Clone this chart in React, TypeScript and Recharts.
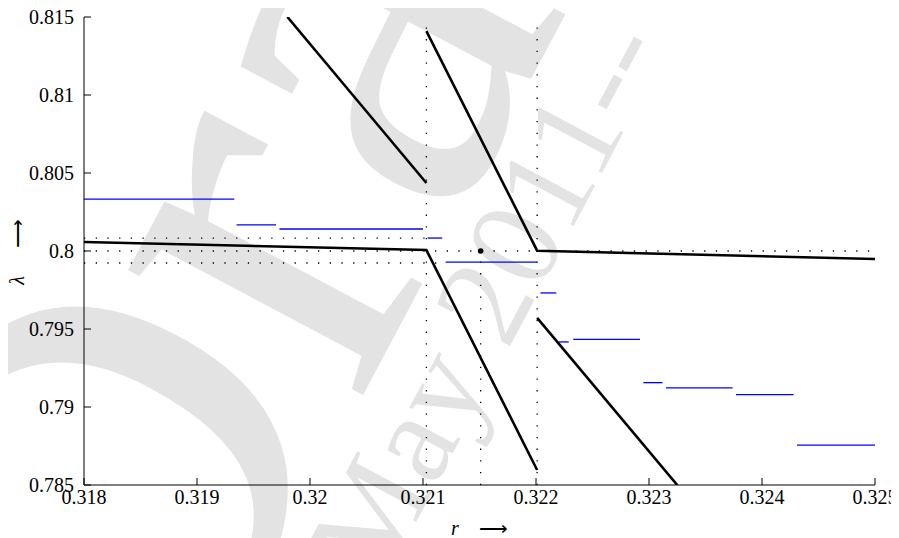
import { ComposedChart, Line, Scatter, XAxis, YAxis } from 'recharts';

type Pt = { r: number; lam: number };

// black solution branches
const branchLow: Pt[] = [
  { r: 0.318, lam: 0.80058 },
  { r: 0.32103, lam: 0.80006 },
  { r: 0.32201, lam: 0.78596 },
];
const branchUpLeft: Pt[] = [
  { r: 0.3198, lam: 0.815 },
  { r: 0.32103, lam: 0.80436 },
];
const branchMid: Pt[] = [
  { r: 0.32103, lam: 0.8141 },
  { r: 0.32201, lam: 0.80002 },
  { r: 0.325, lam: 0.79949 },
];
const branchDownRight: Pt[] = [
  { r: 0.32201, lam: 0.79571 },
  { r: 0.32325, lam: 0.785 },
];

// blue steps
const stepFrom = [0.318, 0.31935, 0.31973, 0.32104, 0.3212, 0.32204, 0.3222, 0.32233, 0.32295, 0.32315, 0.32377, 0.32431];
const stepTo = [0.31933, 0.3197, 0.321, 0.32117, 0.32201, 0.32218, 0.32229, 0.32292, 0.32312, 0.32374, 0.32428, 0.325];
const stepLam = [0.80333, 0.80167, 0.80141, 0.80083, 0.79929, 0.79731, 0.79417, 0.79434, 0.79156, 0.79122, 0.79079, 0.78756];

// dotted guide lines
const guides: Pt[][] = [
  [{ r: 0.32103, lam: 0.785 }, { r: 0.32103, lam: 0.815 }],
  [{ r: 0.32201, lam: 0.785 }, { r: 0.32201, lam: 0.815 }],
  [{ r: 0.32151, lam: 0.785 }, { r: 0.32151, lam: 0.8 }],
  [{ r: 0.318, lam: 0.80083 }, { r: 0.32103, lam: 0.80083 }],
  [{ r: 0.318, lam: 0.8 }, { r: 0.325, lam: 0.8 }],
  [{ r: 0.318, lam: 0.79923 }, { r: 0.3212, lam: 0.79923 }],
];

const marker: Pt[] = [{ r: 0.32151, lam: 0.8 }];

const xTicks = [0.318, 0.319, 0.32, 0.321, 0.322, 0.323, 0.324, 0.325];
const yTicks = [0.785, 0.79, 0.795, 0.8, 0.805, 0.81, 0.815];

const FONT = 'Liberation Serif';

function XLabel(props: any) {
  const vb = props.viewBox;
  return (
    <text x={vb.x + vb.width / 2} y={vb.y + 50} textAnchor="middle" fontFamily={FONT} fontSize={20} fill="#000">
      <tspan fontStyle="italic">r</tspan>
      <tspan dx={20}>⟶</tspan>
    </text>
  );
}

function YLabel(props: any) {
  const vb = props.viewBox;
  const cy = vb.y + vb.height / 2;
  return (
    <text x={0} y={0} transform={`translate(16,${cy + 1}) rotate(-90)`} textAnchor="middle" fontFamily={FONT} fontSize={20} fill="#000">
      <tspan fontStyle="italic">λ</tspan>
      <tspan dx={28}>⟶</tspan>
    </text>
  );
}

function XTick(p: any) {
  return (
    <text x={p.x} y={p.y} dy="0.71em" textAnchor="middle" fontFamily={FONT} fontSize={20} fill="#000">
      {String(p.payload.value)}
    </text>
  );
}

function YTick(p: any) {
  return (
    <text x={p.x} y={p.y} dy="0.34em" textAnchor="end" fontFamily={FONT} fontSize={20} fill="#000">
      {String(p.payload.value)}
    </text>
  );
}

function Watermark() {
  return (
    <svg width={899} height={538} style={{ position: 'absolute', left: -8, top: -8 }}>
      <g fill="#e3e3e3" fontFamily={FONT}>
        <text transform="translate(161,775) rotate(-62)" fontSize={580}>Draft</text>
        <text transform="translate(380,590) rotate(-62)" fontSize={130}>May 2011--</text>
      </g>
    </svg>
  );
}

export default function App() {
  const steps = stepLam.map((lam, i) => [
    { r: stepFrom[i], lam },
    { r: stepTo[i], lam },
  ]);
  return (
    <div style={{ width: 891, height: 530, position: 'relative' }}>
      <style>{'html{overflow:hidden}'}</style>
      <Watermark />
      <div style={{ position: 'absolute', left: 0, top: 0 }}>
        <ComposedChart width={891} height={530} margin={{ top: 9, right: 24, left: 0, bottom: 23 }}>
          <XAxis
            type="number"
            dataKey="r"
            domain={[0.318, 0.325]}
            ticks={xTicks}
            allowDataOverflow
            tick={XTick}
            tickSize={-7}
            tickMargin={12}
            stroke="#000"
            height={30}
            label={{ content: XLabel }}
          />
          <YAxis
            type="number"
            dataKey="lam"
            domain={[0.785, 0.815]}
            ticks={yTicks}
            allowDataOverflow
            tick={YTick}
            tickSize={-7}
            tickMargin={17}
            stroke="#000"
            width={76}
            label={{ content: YLabel }}
          />
          {guides.map((g, i) => (
            <Line
              key={'g' + i}
              data={g}
              dataKey="lam"
              stroke="#000"
              strokeWidth={1.3}
              strokeDasharray="1.3 10.4"
              dot={false}
              activeDot={false}
              isAnimationActive={false}
            />
          ))}
          {steps.map((s, i) => (
            <Line
              key={'s' + i}
              data={s}
              dataKey="lam"
              stroke="#0000ff"
              strokeWidth={1.3}
              dot={false}
              activeDot={false}
              isAnimationActive={false}
            />
          ))}
          {[branchLow, branchUpLeft, branchMid, branchDownRight].map((b, i) => (
            <Line
              key={'b' + i}
              data={b}
              dataKey="lam"
              stroke="#000"
              strokeWidth={2.6}
              dot={false}
              activeDot={false}
              isAnimationActive={false}
            />
          ))}
          <Scatter
            data={marker}
            dataKey="lam"
            fill="#000"
            isAnimationActive={false}
            shape={(p: any) => <circle cx={p.cx} cy={p.cy} r={2.8} fill="#000" />}
          />
        </ComposedChart>
      </div>
    </div>
  );
}
